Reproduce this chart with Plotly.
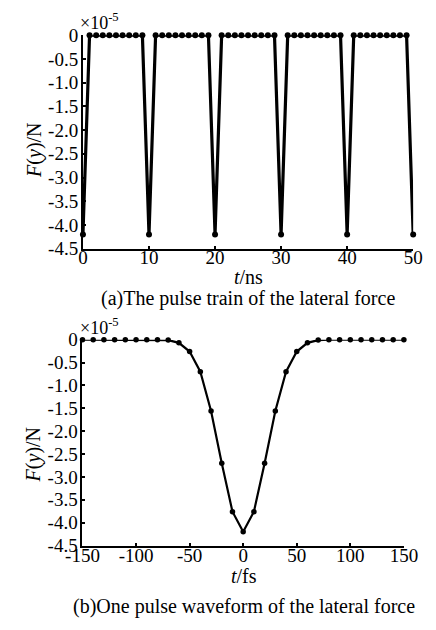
import plotly.graph_objects as go

# ---- data (a): pulse train, t in ns, F in 1e-5 N ----
t_ns = [0, 1, 2, 3, 4, 5, 6, 7, 8, 9,
        10, 11, 12, 13, 14, 15, 16, 17, 18, 19,
        20, 21, 22, 23, 24, 25, 26, 27, 28, 29,
        30, 31, 32, 33, 34, 35, 36, 37, 38, 39,
        40, 41, 42, 43, 44, 45, 46, 47, 48, 49, 50]
F_a = [-4.2, 0, 0, 0, 0, 0, 0, 0, 0, 0,
       -4.2, 0, 0, 0, 0, 0, 0, 0, 0, 0,
       -4.2, 0, 0, 0, 0, 0, 0, 0, 0, 0,
       -4.2, 0, 0, 0, 0, 0, 0, 0, 0, 0,
       -4.2, 0, 0, 0, 0, 0, 0, 0, 0, 0, -4.2]

# ---- data (b): one pulse, t in fs ----
t_fs = [-150, -140, -130, -120, -110, -100, -90, -80, -70, -60, -50, -40, -30, -20, -10,
        0, 10, 20, 30, 40, 50, 60, 70, 80, 90, 100, 110, 120, 130, 140, 150]
F_b = [0, 0, 0, 0, 0, 0, 0, 0, -0.01, -0.07, -0.26, -0.70, -1.56, -2.70, -3.76,
       -4.2, -3.76, -2.70, -1.56, -0.70, -0.26, -0.07, -0.01, 0, 0, 0, 0, 0, 0, 0, 0]

y_tickvals = [0, -0.5, -1.0, -1.5, -2.0, -2.5, -3.0, -3.5, -4.0, -4.5]
y_ticktext = ["0", "-0.5", "-1.0", "-1.5", "-2.0", "-2.5", "-3.0", "-3.5", "-4.0", "-4.5"]
xa_ticks = [0, 10, 20, 30, 40, 50]
xa_ticktext = ["0", "10", "20", "30", "40", "50"]
xb_ticks = [-150, -100, -50, 0, 50, 100, 150]
xb_ticktext = ["-150", "-100", "-50", "0", "50", "100", "150"]

W, H = 436, 630
FONT = "Liberation Serif"

def px(x):
    return x / W

def py(y):
    return 1 - y / H

fig = go.Figure()
fig.add_trace(go.Scatter(x=t_ns, y=F_a, mode="lines+markers", xaxis="x", yaxis="y",
                         line=dict(color="black", width=3.2),
                         marker=dict(color="black", size=6),
                         cliponaxis=False, showlegend=False))
fig.add_trace(go.Scatter(x=t_fs, y=F_b, mode="lines+markers", xaxis="x2", yaxis="y2",
                         line=dict(color="black", width=2.2),
                         marker=dict(color="black", size=5.5),
                         cliponaxis=False, showlegend=False))

axis_common = dict(showgrid=False, zeroline=False, showline=True, linecolor="black",
                   linewidth=2, ticks="inside", ticklen=3, tickwidth=1.5, tickcolor="black",
                   tickfont=dict(family=FONT, size=19, color="black"), mirror=False)

fig.update_layout(
    width=W, height=H,
    margin=dict(l=0, r=0, t=0, b=0),
    paper_bgcolor="white", plot_bgcolor="white",
    font=dict(family=FONT, color="black"),
    xaxis=dict(domain=[px(71), px(426.5)], range=[0, 50], anchor="y",
               tickvals=xa_ticks, ticktext=xa_ticktext, ticklabelstandoff=-10, **axis_common),
    yaxis=dict(domain=[py(247), py(26)], range=[-4.5, 0], anchor="x",
               tickvals=y_tickvals, ticktext=y_ticktext, ticklabelstandoff=-1, **axis_common),
    xaxis2=dict(domain=[px(70.5), px(416.5)], range=[-150, 150], anchor="y2",
                tickvals=xb_ticks, ticktext=xb_ticktext, ticklabelstandoff=-8, **axis_common),
    yaxis2=dict(domain=[py(554), py(341)], range=[-4.5, 0], anchor="x2",
                tickvals=y_tickvals, ticktext=y_ticktext, ticklabelstandoff=-1, **axis_common),
)

ann = []
def add_text(text, x, y, size, xanchor="center", yanchor="middle", angle=0):
    ann.append(dict(text=text, x=px(x), y=py(y), xref="paper", yref="paper",
                    xanchor=xanchor, yanchor=yanchor, showarrow=False, textangle=angle,
                    font=dict(family=FONT, size=size, color="black")))

# panel (a)
add_text("×10<sup>-5</sup>", 66, 12, 18, xanchor="left")
add_text("<i>F</i>(<i>y</i>)/N", 18, 145, 20, angle=-90)
add_text("<i>t</i>/ns", 249, 276, 20)
add_text("(a)The pulse train of the lateral force", 249, 298, 20)
# panel (b)
add_text("×10<sup>-5</sup>", 66, 327, 18, xanchor="left")
add_text("<i>F</i>(<i>y</i>)/N", 18, 460, 20, angle=-90)
add_text("<i>t</i>/fs", 244, 585, 20)
add_text("(b)One pulse waveform of the lateral force", 244, 617, 20)

fig.update_layout(annotations=ann)
fig.write_html("out.html")
